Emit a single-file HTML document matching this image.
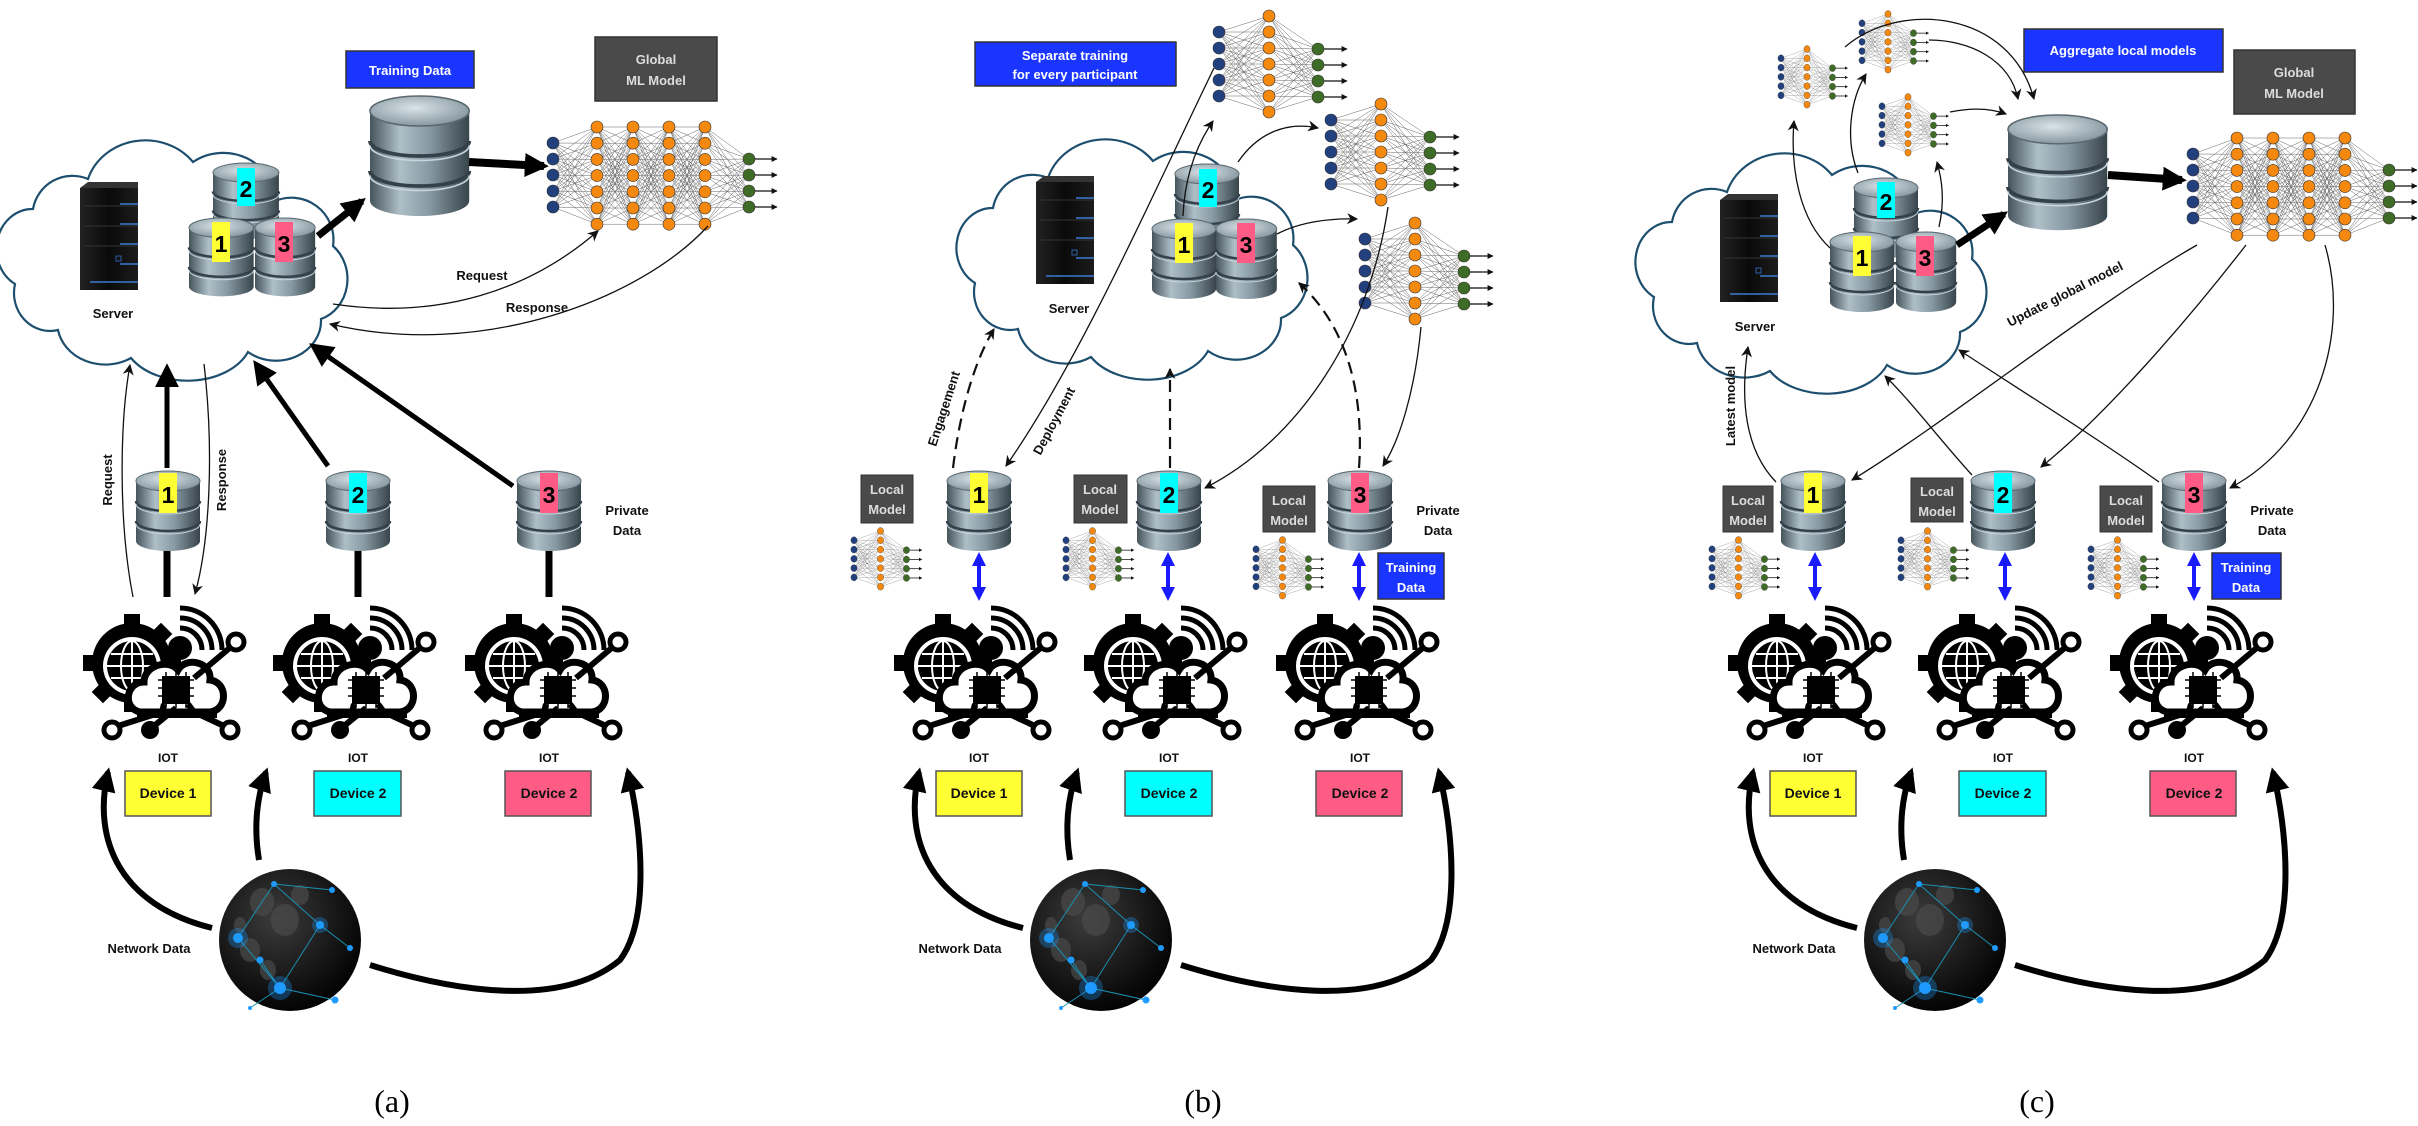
<!DOCTYPE html>
<html><head><meta charset="utf-8"><style>
html,body{margin:0;padding:0;background:#fff;}
svg{display:block;}
text{font-family:"Liberation Sans",sans-serif;font-weight:bold;}
.l{font-size:13px;fill:#111;text-anchor:middle;}
.w{font-size:13px;fill:#fff;text-anchor:middle;}
.g{font-size:13px;fill:#ddd;text-anchor:middle;}
.d{font-size:14px;fill:#111;text-anchor:middle;}
.n{font-size:23px;fill:#000;text-anchor:middle;}
.cap{font-family:"Liberation Serif",serif;font-weight:normal;font-size:32px;text-anchor:middle;fill:#000;}
.t{fill:none;stroke:#111;stroke-width:1.3;}
.T{fill:none;stroke:#000;stroke-width:6;}
.D{fill:none;stroke:#111;stroke-width:2.2;stroke-dasharray:12 7;}
</style></head><body>
<svg width="2418" height="1126" viewBox="0 0 2418 1126" xmlns="http://www.w3.org/2000/svg" xmlns:xlink="http://www.w3.org/1999/xlink">
<defs>
<marker id="a" viewBox="0 0 10 10" refX="9" refY="5" markerWidth="11" markerHeight="11" markerUnits="userSpaceOnUse" orient="auto"><path d="M0,0 L10,5 L0,10 L3,5 z" fill="#111"/></marker>
<marker id="A" viewBox="0 0 10 10" refX="8" refY="5" markerWidth="24" markerHeight="24" markerUnits="userSpaceOnUse" orient="auto"><path d="M0,0 L10,5 L0,10 z" fill="#000"/></marker>
<marker id="s" viewBox="0 0 10 10" refX="9" refY="5" markerWidth="6" markerHeight="6" markerUnits="userSpaceOnUse" orient="auto"><path d="M0,0 L10,5 L0,10 z" fill="#111"/></marker>
<marker id="b" viewBox="0 0 10 10" refX="5" refY="5" markerWidth="14" markerHeight="14" markerUnits="userSpaceOnUse" orient="auto-start-reverse"><path d="M0,0 L10,5 L0,10 z" fill="#1a1aff"/></marker>
<linearGradient id="dbg" x1="0" x2="1" y1="0" y2="0"><stop offset="0" stop-color="#46545c"/><stop offset="0.3" stop-color="#aebfc7"/><stop offset="0.6" stop-color="#8799a3"/><stop offset="1" stop-color="#38444b"/></linearGradient>
<radialGradient id="dbt" cx="0.45" cy="0.4" r="0.7"><stop offset="0" stop-color="#d9e3e8"/><stop offset="1" stop-color="#7a8c95"/></radialGradient>
<radialGradient id="gl" cx="0.4" cy="0.35" r="0.7"><stop offset="0" stop-color="#3c3c3c"/><stop offset="0.7" stop-color="#121212"/><stop offset="1" stop-color="#000"/></radialGradient>
<linearGradient id="sv" x1="0" x2="1"><stop offset="0" stop-color="#222"/><stop offset="0.5" stop-color="#0a0a0a"/><stop offset="1" stop-color="#1c1c1c"/></linearGradient>

<g id="db">
 <path d="M0,10 L0,70 A32,10 0 0 0 64,70 L64,10 Z" fill="url(#dbg)"/>
 <path d="M0,30 A32,10 0 0 0 64,30 M0,50 A32,10 0 0 0 64,50" stroke="#34414a" stroke-width="2.5" fill="none"/>
 <path d="M0,33 A32,10 0 0 0 64,33 M0,53 A32,10 0 0 0 64,53" stroke="#c7d5dc" stroke-width="1" fill="none"/>
 <ellipse cx="32" cy="10" rx="32" ry="10" fill="url(#dbt)" stroke="#5a6870" stroke-width="1"/>
</g>

<g id="cloud">
 <path d="M30,75 A40,40 0 0 1 85,45 A60,55 0 0 1 190,28 A50,45 0 0 1 270,68 A42,42 0 0 1 330,112 A38,42 0 0 1 318,185 A45,40 0 0 1 245,218 A65,45 0 0 1 128,224 A48,42 0 0 1 55,196 A36,38 0 0 1 12,150 A36,40 0 0 1 30,75 Z" fill="#fff" stroke="#1d4e6e" stroke-width="2.2"/>
</g>

<g id="server">
 <rect x="0" y="6" width="58" height="102" fill="url(#sv)"/>
 <path d="M0,6 L8,0 L58,0 L58,6 Z" fill="#333"/>
 <g stroke="#3a7bd5" stroke-width="1.6"><line x1="40" y1="22" x2="58" y2="22"/><line x1="40" y1="42" x2="58" y2="42"/><line x1="40" y1="62" x2="58" y2="62"/><line x1="40" y1="82" x2="58" y2="82"/><line x1="10" y1="100" x2="58" y2="100"/></g>
 <g stroke="#333" stroke-width="1"><line x1="4" y1="24" x2="58" y2="24"/><line x1="4" y1="44" x2="58" y2="44"/><line x1="4" y1="64" x2="58" y2="64"/></g>
 <rect x="36" y="74" width="5" height="5" fill="none" stroke="#2d5fa8"/>
</g>

<g id="iot">
 <g fill="#000">
  <circle cx="50" cy="55" r="40"/>
  <rect x="42" y="6" width="16" height="14"/>
  <rect x="42" y="6" width="16" height="14" transform="rotate(45 50 55)"/>
  <rect x="42" y="6" width="16" height="14" transform="rotate(90 50 55)"/>
  <rect x="42" y="6" width="16" height="14" transform="rotate(135 50 55)"/>
  <rect x="42" y="6" width="16" height="14" transform="rotate(180 50 55)"/>
  <rect x="42" y="6" width="16" height="14" transform="rotate(225 50 55)"/>
  <rect x="42" y="6" width="16" height="14" transform="rotate(270 50 55)"/>
 </g>
 <circle cx="50" cy="58" r="29" fill="#fff"/>
 <circle cx="50" cy="58" r="25" fill="#000"/>
 <g stroke="#fff" stroke-width="2" fill="none"><ellipse cx="50" cy="58" rx="11" ry="25"/><line x1="50" y1="33" x2="50" y2="83"/><line x1="25" y1="58" x2="75" y2="58"/><line x1="29" y1="46" x2="71" y2="46"/><line x1="29" y1="70" x2="71" y2="70"/></g>
 <g stroke="#000" stroke-width="5" fill="none"><path d="M98,20 A22,22 0 0 1 120,42"/><path d="M98,10 A32,32 0 0 1 130,42"/><path d="M98,0 A42,42 0 0 1 140,42"/></g>
 <circle cx="98" cy="40" r="12" fill="#000"/>
 <path d="M58,104 C40,100 44,74 62,74 C62,58 86,50 96,62 C104,48 130,54 128,72 C146,74 146,102 128,104 Z" fill="#fff" stroke="#000" stroke-width="7"/>
 <rect x="80" y="68" width="28" height="28" fill="#000"/>
 <g stroke="#000" stroke-width="1.5"><line x1="76" y1="72" x2="112" y2="72"/><line x1="76" y1="80" x2="112" y2="80"/><line x1="76" y1="88" x2="112" y2="88"/><line x1="84" y1="64" x2="84" y2="100"/><line x1="94" y1="64" x2="94" y2="100"/><line x1="104" y1="64" x2="104" y2="100"/></g>
 <rect x="55" y="104" width="80" height="6" fill="#000"/>
 <g stroke="#000" stroke-width="6" fill="none"><path d="M82,96 L80,104 L36,118"/><path d="M94,100 L72,118"/><path d="M106,96 L112,104 L142,118"/><path d="M112,70 L150,38"/></g>
 <g stroke="#000" stroke-width="5" fill="#fff"><circle cx="30" cy="122" r="8"/><circle cx="148" cy="122" r="8"/><circle cx="154" cy="34" r="8"/></g>
 <circle cx="68" cy="122" r="9" fill="#000"/>
</g>

<g id="globe">
 <circle cx="0" cy="0" r="71" fill="url(#gl)"/>
 <g fill="#4a4a4a" opacity="0.7"><ellipse cx="-28" cy="-38" rx="12" ry="14"/><ellipse cx="-5" cy="-20" rx="14" ry="16"/><ellipse cx="-40" cy="10" rx="10" ry="12"/><ellipse cx="-22" cy="30" rx="8" ry="10"/><ellipse cx="10" cy="-45" rx="9" ry="10"/><ellipse cx="-50" cy="-15" rx="6" ry="8"/></g>
 <g stroke="#1a8fb0" stroke-width="1" fill="none"><path d="M-16,-56 L42,-50 M-16,-56 L30,-15 L60,8 M30,-15 L-10,48 L45,60 M-10,48 L-52,-2 L-16,-56 M-30,20 L-10,48 M-10,48 L-40,68"/></g>
 <g fill="#1f9bff"><circle cx="-16" cy="-56" r="3"/><circle cx="42" cy="-50" r="3"/><circle cx="30" cy="-15" r="4"/><circle cx="60" cy="8" r="3"/><circle cx="-52" cy="-2" r="5"/><circle cx="-30" cy="20" r="3.5"/><circle cx="-10" cy="48" r="6"/><circle cx="45" cy="60" r="3.5"/><circle cx="-40" cy="68" r="2"/></g>
 <g fill="#1f9bff" opacity="0.3"><circle cx="-52" cy="-2" r="10"/><circle cx="-10" cy="48" r="12"/><circle cx="30" cy="-15" r="8"/></g>
</g>

<g id="nn4"></g>
<g id="nn1"></g>

<g id="bottom">
 <use href="#db" transform="translate(136,471)"/>
 <use href="#db" transform="translate(326,471)"/>
 <use href="#db" transform="translate(517,471)"/>
 <rect x="159" y="473" width="18" height="40" fill="#ffff33"/><text class="n" x="168" y="503">1</text>
 <rect x="349" y="473" width="18" height="40" fill="#00ffff"/><text class="n" x="358" y="503">2</text>
 <rect x="540" y="473" width="18" height="40" fill="#ff5c85"/><text class="n" x="549" y="503">3</text>
 <use href="#iot" transform="translate(82,608)"/>
 <use href="#iot" transform="translate(272,608)"/>
 <use href="#iot" transform="translate(464,608)"/>
 <text class="l" x="168" y="762" style="font-size:12px">IOT</text>
 <text class="l" x="358" y="762" style="font-size:12px">IOT</text>
 <text class="l" x="549" y="762" style="font-size:12px">IOT</text>
 <rect x="125" y="771" width="86" height="45" fill="#ffff33" stroke="#555" stroke-width="1.5"/><text class="d" x="168" y="798">Device 1</text>
 <rect x="314" y="771" width="87" height="45" fill="#00ffff" stroke="#555" stroke-width="1.5"/><text class="d" x="358" y="798">Device 2</text>
 <rect x="505" y="771" width="86" height="45" fill="#ff5c85" stroke="#555" stroke-width="1.5"/><text class="d" x="549" y="798">Device 2</text>
 <use href="#globe" transform="translate(290,940)"/>
 <text class="l" x="149" y="953">Network Data</text>
 <path class="T" d="M212,928 C120,905 92,840 108,772" marker-end="url(#A)"/>
 <path class="T" d="M259,860 C254,830 256,800 266,772" marker-end="url(#A)"/>
 <path class="T" d="M370,965 C450,990 560,1010 620,960 C650,920 642,830 628,772" marker-end="url(#A)"/>
 <text class="l" x="627" y="515">Private</text>
 <text class="l" x="627" y="535">Data</text>
</g>
<g id="localrow">
 <use href="#db" transform="translate(136,471)"/>
</g>
</defs>

<!-- ================= PANEL A ================= -->
<use href="#cloud" transform="translate(3,134)"/>
<use href="#server" transform="translate(80,182)"/>
<text class="l" x="113" y="318">Server</text>
<use href="#db" transform="translate(213,163) scale(1.03,0.95)"/>
<rect x="237" y="168" width="18" height="38" fill="#00ffff"/><text class="n" x="246" y="197">2</text>
<use href="#db" transform="translate(189,218) scale(1.01,0.98)"/>
<use href="#db" transform="translate(255,218) scale(0.94,0.98)"/>
<rect x="212" y="222" width="18" height="40" fill="#ffff33"/><text class="n" x="221" y="252">1</text>
<rect x="275" y="222" width="18" height="40" fill="#ff5c85"/><text class="n" x="284" y="252">3</text>
<path class="T" style="stroke-width:7" d="M318,236 L362,201" marker-end="url(#A)"/>
<use href="#db" transform="translate(370,96) scale(1.55,1.5)"/>
<rect x="346" y="51" width="128" height="37" fill="#1a35ff" stroke="#333" stroke-width="1.5"/>
<text class="w" x="410" y="75">Training Data</text>
<rect x="595" y="37" width="122" height="64" fill="#4a4a4a" stroke="#333" stroke-width="1.5"/>
<text class="g" x="656" y="64">Global</text><text class="g" x="656" y="85">ML Model</text>
<path class="T" style="stroke-width:8" d="M469,162 L544,166" marker-end="url(#A)"/>
<use href="#nn4" transform="translate(553,127)"/>
<path class="t" d="M333,304 C440,320 530,290 598,231" marker-end="url(#a)"/>
<text class="l" x="482" y="280">Request</text>
<path class="t" d="M708,226 C640,300 480,360 330,324" marker-end="url(#a)"/>
<text class="l" x="537" y="312">Response</text>
<path class="t" d="M133,597 C118,520 120,420 130,365" marker-end="url(#a)"/>
<text class="l" transform="translate(112,480) rotate(-90)">Request</text>
<path class="T" style="stroke-width:5" d="M167,468 L167,368" marker-end="url(#A)"/>
<path class="t" d="M204,364 C214,450 210,540 195,594" marker-end="url(#a)"/>
<text class="l" transform="translate(226,480) rotate(-90)">Response</text>
<path class="T" style="stroke-width:5" d="M328,466 L256,364" marker-end="url(#A)"/>
<path class="T" style="stroke-width:5" d="M513,486 L313,346" marker-end="url(#A)"/>
<g stroke="#000" stroke-width="7"><line x1="167" y1="548" x2="167" y2="597"/><line x1="358" y1="548" x2="358" y2="597"/><line x1="549" y1="548" x2="549" y2="597"/></g>
<use href="#bottom"/>
<text class="cap" x="392" y="1112">(a)</text>

<!-- ================= PANEL B ================= -->
<rect x="975" y="42" width="201" height="44" fill="#1a35ff" stroke="#333" stroke-width="1.5"/>
<text class="w" x="1075" y="60">Separate training</text><text class="w" x="1075" y="79">for every participant</text>
<use href="#nn1" transform="translate(1219,16)"/>
<use href="#nn1" transform="translate(1331,104)"/>
<use href="#nn1" transform="translate(1365,223)"/>
<use href="#cloud" transform="translate(963,133)"/>
<use href="#server" transform="translate(1036,176)"/>
<text class="l" x="1069" y="313">Server</text>
<use href="#db" transform="translate(1175,164)"/>
<rect x="1199" y="169" width="18" height="38" fill="#00ffff"/><text class="n" x="1208" y="198">2</text>
<use href="#db" transform="translate(1152,219)"/>
<use href="#db" transform="translate(1216,219) scale(0.95,1)"/>
<rect x="1175" y="223" width="18" height="40" fill="#ffff33"/><text class="n" x="1184" y="253">1</text>
<rect x="1237" y="223" width="18" height="40" fill="#ff5c85"/><text class="n" x="1246" y="253">3</text>
<path class="t" d="M1183,216 C1185,170 1200,140 1213,121" marker-end="url(#a)"/>
<path class="t" d="M1238,162 C1260,130 1290,122 1318,128" marker-end="url(#a)"/>
<path class="t" d="M1277,234 C1300,222 1330,218 1357,219" marker-end="url(#a)"/>
<path class="t" d="M1214,68 C1150,200 1080,360 1006,466" marker-end="url(#a)"/>
<text class="l" transform="translate(1058,423) rotate(-62)">Deployment</text>
<path class="D" d="M953,468 C960,410 975,360 994,329" marker-end="url(#a)"/>
<text class="l" transform="translate(948,410) rotate(-72)">Engagement</text>
<path class="D" d="M1170,468 L1170,369" marker-end="url(#a)"/>
<path class="D" d="M1359,468 C1365,380 1340,320 1299,283" marker-end="url(#a)"/>
<path class="t" d="M1388,207 C1370,330 1300,440 1205,488" marker-end="url(#a)"/>
<path class="t" d="M1421,327 C1415,390 1400,440 1383,466" marker-end="url(#a)"/>
<use href="#bottom" transform="translate(811,0)"/>
<rect x="861" y="475" width="52" height="48" fill="#4a4a4a" stroke="#333"/><text class="g" x="887" y="494">Local</text><text class="g" x="887" y="514">Model</text>
<rect x="1074" y="475" width="53" height="48" fill="#4a4a4a" stroke="#333"/><text class="g" x="1100" y="494">Local</text><text class="g" x="1100" y="514">Model</text>
<rect x="1263" y="486" width="52" height="46" fill="#4a4a4a" stroke="#333"/><text class="g" x="1289" y="505">Local</text><text class="g" x="1289" y="525">Model</text>
<use href="#nn1" transform="translate(854,531) scale(0.53,0.58)"/>
<use href="#nn1" transform="translate(1066,531) scale(0.53,0.58)"/>
<use href="#nn1" transform="translate(1256,540) scale(0.53,0.58)"/>
<g stroke="#1a1aff" stroke-width="4"><line x1="979" y1="559" x2="979" y2="594" marker-start="url(#b)" marker-end="url(#b)"/><line x1="1168" y1="559" x2="1168" y2="594" marker-start="url(#b)" marker-end="url(#b)"/><line x1="1359" y1="559" x2="1359" y2="594" marker-start="url(#b)" marker-end="url(#b)"/></g>
<rect x="1378" y="553" width="66" height="46" fill="#1a35ff" stroke="#333" stroke-width="1.5"/><text class="w" x="1411" y="572">Training</text><text class="w" x="1411" y="592">Data</text>
<text class="cap" x="1203" y="1112">(b)</text>

<!-- ================= PANEL C ================= -->
<use href="#cloud" transform="translate(1642,147)"/>
<use href="#server" transform="translate(1720,194)"/>
<text class="l" x="1755" y="331">Server</text>
<use href="#db" transform="translate(1854,178)"/>
<rect x="1877" y="182" width="18" height="36" fill="#00ffff"/><text class="n" x="1886" y="210">2</text>
<use href="#db" transform="translate(1830,232)"/>
<use href="#db" transform="translate(1896,232) scale(0.94,1)"/>
<rect x="1853" y="236" width="18" height="40" fill="#ffff33"/><text class="n" x="1862" y="266">1</text>
<rect x="1916" y="236" width="18" height="40" fill="#ff5c85"/><text class="n" x="1925" y="266">3</text>
<path class="T" style="stroke-width:7" d="M1957,245 L2004,214" marker-end="url(#A)"/>
<use href="#db" transform="translate(2008,115) scale(1.55,1.44)"/>
<rect x="2024" y="29" width="199" height="43" fill="#1a35ff" stroke="#333" stroke-width="1.5"/>
<text class="w" x="2123" y="55">Aggregate local models</text>
<rect x="2234" y="50" width="121" height="64" fill="#4a4a4a" stroke="#333" stroke-width="1.5"/>
<text class="g" x="2294" y="77">Global</text><text class="g" x="2294" y="98">ML Model</text>
<path class="T" style="stroke-width:8" d="M2108,175 L2182,180" marker-end="url(#A)"/>
<use href="#nn4" transform="translate(2193,138)"/>
<use href="#nn1" transform="translate(1781,49) scale(0.52,0.58)"/>
<use href="#nn1" transform="translate(1862,14) scale(0.52,0.58)"/>
<use href="#nn1" transform="translate(1882,97) scale(0.52,0.58)"/>
<path class="t" d="M1830,248 C1800,220 1790,170 1794,121" marker-end="url(#a)"/>
<path class="t" d="M1858,173 C1845,140 1850,100 1866,74" marker-end="url(#a)"/>
<path class="t" d="M1939,227 C1945,200 1942,180 1937,162" marker-end="url(#a)"/>
<path class="t" d="M1845,47 C1900,0 2010,10 2034,99" marker-end="url(#a)"/>
<path class="t" d="M1929,40 C1970,40 2010,60 2018,99" marker-end="url(#a)"/>
<path class="t" d="M1950,112 C1970,108 1990,108 2006,114" marker-end="url(#a)"/>
<path class="t" d="M2197,245 C2100,300 1950,420 1852,480" marker-end="url(#a)"/>
<text class="l" transform="translate(2067,298) rotate(-27)">Update global model</text>
<path class="t" d="M2246,245 C2180,330 2100,420 2041,467" marker-end="url(#a)"/>
<path class="t" d="M2325,245 C2350,330 2320,440 2230,488" marker-end="url(#a)"/>
<path class="t" d="M1776,482 C1745,450 1740,400 1748,347" marker-end="url(#a)"/>
<text class="l" transform="translate(1735,406) rotate(-90)">Latest model</text>
<path class="t" d="M1972,475 C1940,440 1910,400 1885,376" marker-end="url(#a)"/>
<path class="t" d="M2159,482 C2100,440 2020,390 1959,350" marker-end="url(#a)"/>
<use href="#bottom" transform="translate(1645,0)"/>
<rect x="1723" y="486" width="50" height="46" fill="#4a4a4a" stroke="#333"/><text class="g" x="1748" y="505">Local</text><text class="g" x="1748" y="525">Model</text>
<rect x="1911" y="478" width="52" height="44" fill="#4a4a4a" stroke="#333"/><text class="g" x="1937" y="496">Local</text><text class="g" x="1937" y="516">Model</text>
<rect x="2100" y="486" width="52" height="46" fill="#4a4a4a" stroke="#333"/><text class="g" x="2126" y="505">Local</text><text class="g" x="2126" y="525">Model</text>
<use href="#nn1" transform="translate(1712,540) scale(0.53,0.58)"/>
<use href="#nn1" transform="translate(1901,531) scale(0.53,0.58)"/>
<use href="#nn1" transform="translate(2091,540) scale(0.53,0.58)"/>
<g stroke="#1a1aff" stroke-width="4"><line x1="1815" y1="559" x2="1815" y2="594" marker-start="url(#b)" marker-end="url(#b)"/><line x1="2005" y1="559" x2="2005" y2="594" marker-start="url(#b)" marker-end="url(#b)"/><line x1="2194" y1="559" x2="2194" y2="594" marker-start="url(#b)" marker-end="url(#b)"/></g>
<rect x="2212" y="553" width="69" height="46" fill="#1a35ff" stroke="#333" stroke-width="1.5"/><text class="w" x="2246" y="572">Training</text><text class="w" x="2246" y="592">Data</text>
<text class="cap" x="2037" y="1112">(c)</text>
</svg>
<script>
function build(id, cols, arrowEnd){
  var s='';
  for(var i=0;i<cols.length-1;i++){
    var A=cols[i],B=cols[i+1];
    for(var a=0;a<A.ys.length;a++)for(var b=0;b<B.ys.length;b++)
      s+='<line x1="'+A.x+'" y1="'+A.ys[a]+'" x2="'+B.x+'" y2="'+B.ys[b]+'" stroke="#666" stroke-width="0.5"/>';
  }
  var L=cols[cols.length-1];
  for(var k=0;k<L.ys.length;k++)
    s+='<line x1="'+L.x+'" y1="'+L.ys[k]+'" x2="'+arrowEnd+'" y2="'+L.ys[k]+'" stroke="#111" stroke-width="1.3" marker-end="url(#s)"/>';
  for(var i=0;i<cols.length;i++){
    var C=cols[i];
    for(var k=0;k<C.ys.length;k++)
      s+='<circle cx="'+C.x+'" cy="'+C.ys[k]+'" r="6" fill="'+C.c+'" stroke="#333" stroke-width="0.6"/>';
  }
  document.getElementById(id).innerHTML=s;
}
function r(a,n,st){var o=[];for(var i=0;i<n;i++)o.push(a+i*st);return o;}
var BL='#22407e',OR='#f5880f',GR='#3e6b26';
build('nn4',[{x:0,ys:r(16,5,16),c:BL},{x:44,ys:r(0,7,16.2),c:OR},{x:80,ys:r(0,7,16.2),c:OR},{x:116,ys:r(0,7,16.2),c:OR},{x:152,ys:r(0,7,16.2),c:OR},{x:196,ys:r(32,4,16),c:GR}],224);
build('nn1',[{x:0,ys:r(16,5,16),c:BL},{x:50,ys:r(0,7,16),c:OR},{x:99,ys:r(33,4,16),c:GR}],128);
</script>
</body></html>
